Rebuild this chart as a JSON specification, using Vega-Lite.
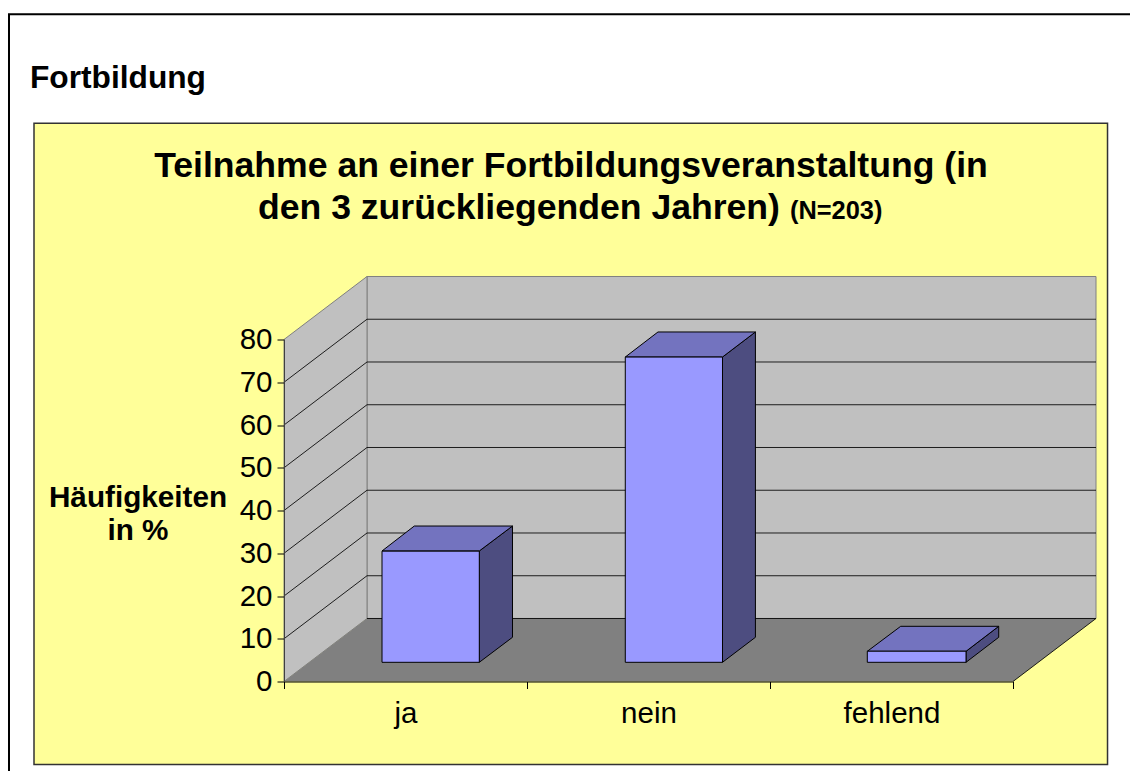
{"$schema":"https://vega.github.io/schema/vega-lite/v6.json","width":729,"height":342,"autosize":{"type":"none"},"padding":{"left":284,"top":339.5,"right":117,"bottom":89.5},"background":"#FFFFFF","config":{"view":{"stroke":null},"font":"Liberation Sans"},
"datasets":{
"panel":[{"x":-1.0288,"x2":3.389,"y":130.6,"y2":-19.4}],
"frame":[{"x":-1.1317,"x2":3.523,"y":156.1,"y2":-23}],
"backWall":[{"x":0.3416,"x2":3.3416,"y":94.74,"y2":14.74}],
"leftWall":[{"x":0,"y":80,"y2":0},{"x":0.3416,"y":94.74,"y2":14.74}],
"floor":[{"y":0,"x":0,"x2":3},{"y":14.74,"x":0.3416,"x2":3.3416}],
"grid":[
{"k":0,"x":0.3416,"y":14.74},{"k":0,"x":3.3416,"y":14.74},
{"k":10,"x":0,"y":10},{"k":10,"x":0.3416,"y":24.74},{"k":10,"x":3.3416,"y":24.74},
{"k":20,"x":0,"y":20},{"k":20,"x":0.3416,"y":34.74},{"k":20,"x":3.3416,"y":34.74},
{"k":30,"x":0,"y":30},{"k":30,"x":0.3416,"y":44.74},{"k":30,"x":3.3416,"y":44.74},
{"k":40,"x":0,"y":40},{"k":40,"x":0.3416,"y":54.74},{"k":40,"x":3.3416,"y":54.74},
{"k":50,"x":0,"y":50},{"k":50,"x":0.3416,"y":64.74},{"k":50,"x":3.3416,"y":64.74},
{"k":60,"x":0,"y":60},{"k":60,"x":0.3416,"y":74.74},{"k":60,"x":3.3416,"y":74.74},
{"k":70,"x":0,"y":70},{"k":70,"x":0.3416,"y":84.74},{"k":70,"x":3.3416,"y":84.74},
{"k":-1,"x":3,"y":0},{"k":-1,"x":3.3416,"y":14.74}],
"bars":[{"category":"ja","x":0.4033,"x2":0.8037,"y":26,"y2":0},{"category":"nein","x":1.4045,"x2":1.8045,"y":71.4,"y2":0},{"category":"fehlend","x":2.4004,"x2":2.8066,"y":2.6,"y2":0}],
"sides":[
{"category":"ja","x":0.8037,"y":30.53,"y2":4.49},{"category":"ja","x":0.9403,"y":36.37,"y2":10.34},
{"category":"nein","x":1.8045,"y":75.9,"y2":4.49},{"category":"nein","x":1.94,"y":81.76,"y2":10.34},
{"category":"fehlend","x":2.8066,"y":7.06,"y2":4.49},{"category":"fehlend","x":2.9412,"y":12.91,"y2":10.34}],
"tops":[
{"category":"ja","y":30.53,"x":0.4033,"x2":0.8037},{"category":"ja","y":36.37,"x":0.5362,"x2":0.9403},
{"category":"nein","y":75.9,"x":1.4045,"x2":1.8045},{"category":"nein","y":81.76,"x":1.539,"x2":1.94},
{"category":"fehlend","y":7.06,"x":2.4004,"x2":2.8066},{"category":"fehlend","y":12.91,"x":2.5379,"x2":2.9412}],
"heading":[{"label":"Fortbildung","x":-1.0453,"y":138.9}],
"title1":[{"label":"Teilnahme an einer Fortbildungsveranstaltung (in","x":1.181,"y":118.1}],
"title2":[{"label":"den 3 zurückliegenden Jahren)","x":-0.107,"y":108.26}],
"titleN":[{"label":"(N=203)","x":2.082,"y":108.26}],
"axisTitle":[{"label":"Häufigkeiten","x":-0.6008,"y":40.9},{"label":"in %","x":-0.6008,"y":33.1}]
},
"encoding":{
"x":{"field":"x","type":"quantitative","scale":{"domain":[0,3],"nice":false,"zero":false},"axis":{"title":null,"grid":false,"values":[0,0.5,1,1.5,2,2.5,3],"labelExpr":"datum.value==0.5?'ja':datum.value==1.5?'nein':datum.value==2.5?'fehlend':''","labelFontSize":29.5,"labelColor":"#000000","labelFont":"Liberation Sans","labelOverlap":false,"labelBound":false,"labelFlush":false,"labelPadding":11,"tickSize":7,"tickColor":"#000000","tickOpacity":{"condition":{"test":"datum.value % 1 === 0","value":1},"value":0},"domainColor":"#000000","zindex":1}},
"y":{"field":"y","type":"quantitative","scale":{"domain":[0,80],"nice":false,"zero":false},"axis":{"title":null,"grid":false,"values":[0,10,20,30,40,50,60,70,80],"labelFontSize":29.5,"labelColor":"#000000","labelFont":"Liberation Sans","labelOverlap":false,"labelBound":false,"labelFlush":false,"labelPadding":5,"tickSize":7,"tickColor":"#000000","domainColor":"#404040","zindex":1}}
},
"layer":[
{"data":{"name":"frame"},"mark":{"type":"rect","fill":null,"stroke":"#000000","strokeWidth":2},"encoding":{"x2":{"field":"x2"},"y2":{"field":"y2"}}},
{"data":{"name":"panel"},"mark":{"type":"rect","fill":"#FFFF99","stroke":"#333333","strokeWidth":1.5},"encoding":{"x2":{"field":"x2"},"y2":{"field":"y2"}}},
{"data":{"name":"backWall"},"mark":{"type":"rect","fill":"#C0C0C0","stroke":"#808080","strokeWidth":1},"encoding":{"x2":{"field":"x2"},"y2":{"field":"y2"}}},
{"data":{"name":"leftWall"},"mark":{"type":"area","fill":"#C0C0C0","stroke":"#808080","strokeWidth":1},"encoding":{"y2":{"field":"y2"}}},
{"data":{"name":"floor"},"mark":{"type":"area","orient":"horizontal","fill":"#808080"},"encoding":{"x2":{"field":"x2"}}},
{"data":{"name":"grid"},"mark":{"type":"line","color":"#000000","strokeWidth":1,"opacity":0.85},"encoding":{"detail":{"field":"k"}}},
{"data":{"name":"sides"},"mark":{"type":"area","fill":"#4D4D80","stroke":"#000000","strokeWidth":1},"encoding":{"y2":{"field":"y2"},"detail":{"field":"category"}}},
{"data":{"name":"tops"},"mark":{"type":"area","orient":"horizontal","fill":"#7373BF","stroke":"#000000","strokeWidth":1},"encoding":{"x2":{"field":"x2"},"detail":{"field":"category"}}},
{"data":{"name":"bars"},"mark":{"type":"rect","fill":"#9999FF","stroke":"#000000","strokeWidth":1,"yOffset":-19.2,"y2Offset":-19.2},"encoding":{"x2":{"field":"x2"},"y2":{"field":"y2"}}},
{"data":{"name":"heading"},"mark":{"type":"text","font":"Liberation Sans","fontWeight":"bold","fontSize":31.7,"align":"left","baseline":"alphabetic","color":"#000000"},"encoding":{"text":{"field":"label"}}},
{"data":{"name":"title1"},"mark":{"type":"text","font":"Liberation Sans","fontWeight":"bold","fontSize":35.6,"align":"center","baseline":"alphabetic","color":"#000000"},"encoding":{"text":{"field":"label"}}},
{"data":{"name":"title2"},"mark":{"type":"text","font":"Liberation Sans","fontWeight":"bold","fontSize":35.6,"align":"left","baseline":"alphabetic","color":"#000000"},"encoding":{"text":{"field":"label"}}},
{"data":{"name":"titleN"},"mark":{"type":"text","font":"Liberation Sans","fontWeight":"bold","fontSize":25.4,"align":"left","baseline":"alphabetic","color":"#000000"},"encoding":{"text":{"field":"label"}}},
{"data":{"name":"axisTitle"},"mark":{"type":"text","font":"Liberation Sans","fontWeight":"bold","fontSize":29.7,"align":"center","baseline":"alphabetic","color":"#000000"},"encoding":{"text":{"field":"label"}}}
]}
